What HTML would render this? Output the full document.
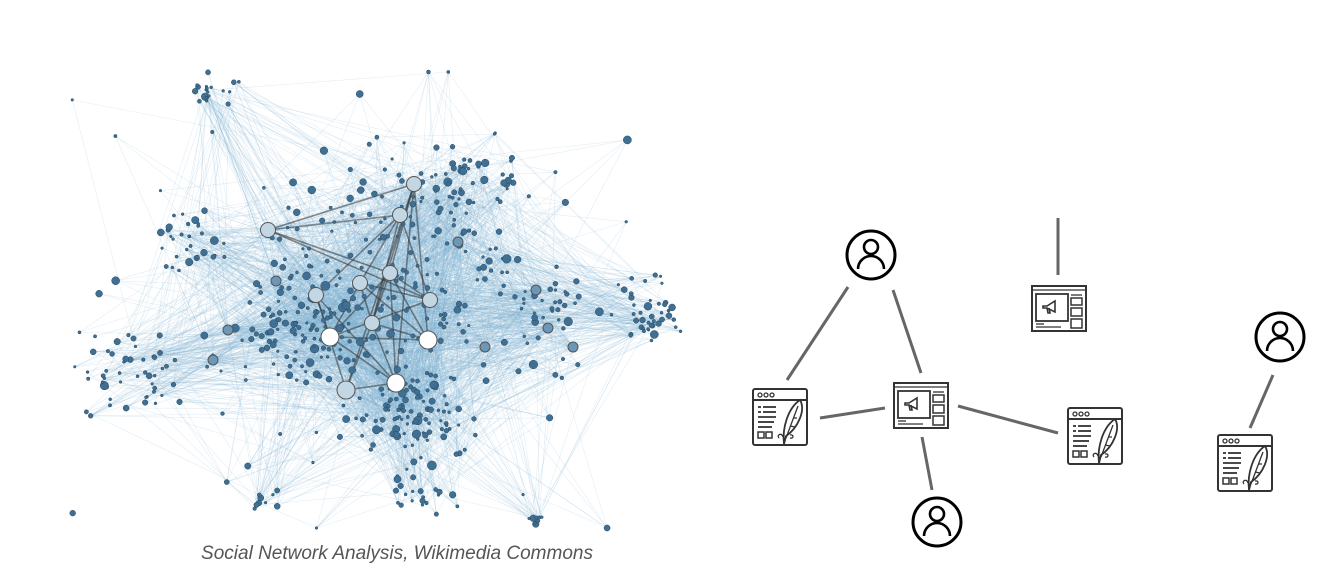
<!DOCTYPE html>
<html><head><meta charset="utf-8"><style>
html,body{margin:0;padding:0;background:#fff;width:1344px;height:581px;overflow:hidden}
svg{position:absolute;left:0;top:0}
.cap{position:absolute;left:0;width:794px;top:543px;text-align:center;font:italic 19px "Liberation Sans",sans-serif;color:#555}
</style></head><body>
<svg id="net" width="1344" height="581"></svg>
<svg width="1344" height="581">
<defs>
<symbol id="person" viewBox="-26 -26 52 52" overflow="visible">
<circle r="24" fill="#fff" stroke="#000" stroke-width="3"/>
<circle cy="-8" r="7" fill="none" stroke="#000" stroke-width="2.6"/>
<path d="M-13 14 A13 13 0 0 1 13 14" fill="none" stroke="#000" stroke-width="2.6"/>
</symbol>
<symbol id="blog" viewBox="0 0 56 58" overflow="visible">
<rect x="1" y="1" width="54" height="56" rx="2" fill="#fff" stroke="#333" stroke-width="2"/>
<line x1="1" y1="12" x2="55" y2="12" stroke="#333" stroke-width="2"/>
<circle cx="8" cy="7" r="2" fill="none" stroke="#333" stroke-width="1.3"/>
<circle cx="14" cy="7" r="2" fill="none" stroke="#333" stroke-width="1.3"/>
<circle cx="20" cy="7" r="2" fill="none" stroke="#333" stroke-width="1.3"/>
<g stroke="#333" stroke-width="1.8"><line x1="6" y1="19" x2="9" y2="19"/><line x1="11" y1="19" x2="24" y2="19"/><line x1="6" y1="24" x2="9" y2="24"/><line x1="11" y1="24" x2="24" y2="24"/><line x1="6" y1="29" x2="24" y2="29"/><line x1="6" y1="34" x2="22" y2="34"/><line x1="6" y1="39" x2="20" y2="39"/></g>
<rect x="6" y="44" width="6" height="6" fill="none" stroke="#333" stroke-width="1.5"/>
<rect x="14" y="44" width="6" height="6" fill="none" stroke="#333" stroke-width="1.5"/>
<path d="M32 56 C30 40 36 20 48 12 C54 22 46 40 34 48 Z" fill="#fff" stroke="#333" stroke-width="1.8"/>
<path d="M34 50 L46 18 M38 38 l5 1 M41 30 l4 0" stroke="#333" stroke-width="1.3" fill="none"/>
<path d="M27 50 c-3 -3 3 -6 4 -1 M38 50 c4 1 4 -4 0 -3" stroke="#333" stroke-width="1.3" fill="none"/>
</symbol>
<symbol id="ad" viewBox="0 0 56 47" overflow="visible">
<rect x="1" y="1" width="54" height="45" fill="#fff" stroke="#333" stroke-width="2"/>
<line x1="1" y1="5" x2="55" y2="5" stroke="#333" stroke-width="1.3"/>
<rect x="5" y="9" width="32" height="27" fill="none" stroke="#333" stroke-width="1.8"/>
<path d="M12 21 l4 0 l8 -5 l0 11 l-8 -4 l-4 0 z M16 23 l1 5 l2 0 l-1 -5" fill="none" stroke="#333" stroke-width="1.6"/>
<line x1="40" y1="10" x2="51" y2="10" stroke="#333" stroke-width="1.3"/>
<rect x="40" y="13" width="11" height="7" fill="none" stroke="#333" stroke-width="1.5"/>
<rect x="40" y="23" width="11" height="8" fill="none" stroke="#333" stroke-width="1.5"/>
<rect x="40" y="34" width="11" height="9" fill="none" stroke="#333" stroke-width="1.5"/>
<line x1="5" y1="39" x2="13" y2="39" stroke="#333" stroke-width="1.3"/>
<line x1="5" y1="42" x2="30" y2="42" stroke="#333" stroke-width="1.3"/>
</symbol>
</defs>
<g stroke="#666" stroke-width="3" stroke-linecap="butt">
<line x1="848" y1="287" x2="787" y2="380"/>
<line x1="893" y1="290" x2="921" y2="373"/>
<line x1="820" y1="418" x2="885" y2="408"/>
<line x1="958" y1="406" x2="1058" y2="433"/>
<line x1="922" y1="437" x2="932" y2="490"/>
<line x1="1058" y1="218" x2="1058" y2="275"/>
<line x1="1273" y1="375" x2="1250" y2="428"/>
</g>
<use href="#person" x="845" y="229" width="52" height="52"/>
<use href="#person" x="911" y="496" width="52" height="52"/>
<use href="#person" x="1254" y="311" width="52" height="52"/>
<use href="#blog" x="752" y="388" width="56" height="58"/>
<use href="#blog" x="1067" y="407" width="56" height="58"/>
<use href="#blog" x="1217" y="434" width="56" height="58"/>
<use href="#ad" x="893" y="382" width="56" height="47"/>
<use href="#ad" x="1031" y="285" width="56" height="47"/>
</svg>
<div class="cap">Social Network Analysis, Wikimedia Commons</div>
<script>
var s=1234567;function r(){s=(s*16807)%2147483647;return s/2147483647;}
function g(){return (r()+r()+r()-1.5)/1.5;}
var ns="http://www.w3.org/2000/svg",svg=document.getElementById('net');
function el(n,a){var e=document.createElementNS(ns,n);for(var k in a)e.setAttribute(k,a[k]);svg.appendChild(e);return e;}
var clusters=[[210,90,20,14,18],[650,310,30,35,40],[190,240,30,25,30],[410,420,50,45,90],[300,330,50,45,80],[460,190,50,40,50],[560,300,40,30,25],[130,380,45,45,50],[260,500,15,10,10],[535,520,10,5,8],[420,500,30,20,20],[380,290,150,120,200],[380,300,280,200,80]];
var nodes=[];
clusters.forEach(function(c){for(var i=0;i<c[4];i++){var x=c[0]+g()*c[2]*1.6,y=c[1]+g()*c[3]*1.6;x=Math.max(62,Math.min(688,x));y=Math.max(72,Math.min(528,y));nodes.push([x,y,1.3+r()*r()*3.5]);}});
var hub=[[330,337],[396,383],[428,340],[346,390],[316,295],[372,323],[390,273],[400,215],[360,283],[414,184],[268,230],[430,300],[458,242],[276,281],[228,330],[213,360],[485,347],[536,290],[548,328],[573,347]];
var g1=document.createElementNS(ns,'g');g1.setAttribute('stroke','#7fb0d2');g1.setAttribute('stroke-width','0.6');g1.setAttribute('stroke-opacity','0.22');svg.appendChild(g1);
var cnt=0;
while(cnt<3500){var a=nodes[Math.floor(r()*nodes.length)],b=r()<0.35?hub[Math.floor(r()*hub.length)]:nodes[Math.floor(r()*nodes.length)];var d=Math.hypot(a[0]-b[0],a[1]-b[1]);if(d>260&&r()<0.8)continue;cnt++;var l=document.createElementNS(ns,'line');l.setAttribute('x1',a[0]);l.setAttribute('y1',a[1]);l.setAttribute('x2',b[0]);l.setAttribute('y2',b[1]);g1.appendChild(l);}
for(var i=0;i<12;i++)for(var j=i+1;j<12;j++)if(r()<0.45)el('line',{x1:hub[i][0],y1:hub[i][1],x2:hub[j][0],y2:hub[j][1],stroke:'#333','stroke-width':1.6,'stroke-opacity':0.55});
nodes.forEach(function(n){el('circle',{cx:n[0],cy:n[1],r:n[2],fill:'#3f6f92','stroke':'#2a4a62','stroke-width':0.5});});
hub.forEach(function(h,i){var rr=i<4?9:(i<12?7.5:5);el('circle',{cx:h[0],cy:h[1],r:rr,fill:i<3?'#fff':(i<12?'#c3d6e4':'#6b97b8'),stroke:'#555','stroke-width':1});});
</script>
</body></html>
